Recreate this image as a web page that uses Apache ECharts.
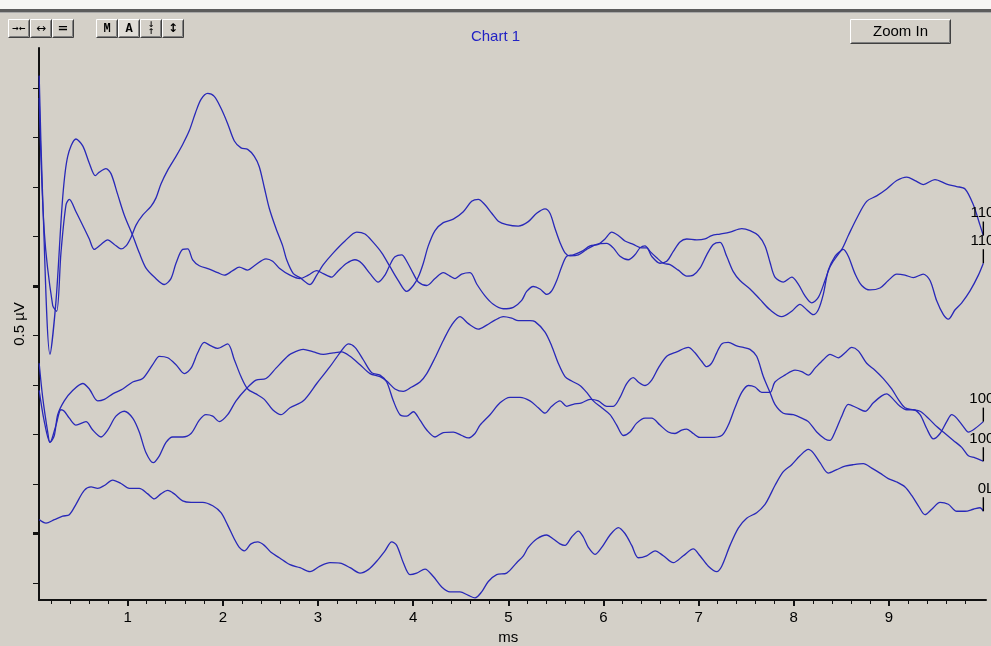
<!DOCTYPE html>
<html>
<head>
<meta charset="utf-8">
<script src="https://cdn.jsdelivr.net/npm/echarts@6/dist/echarts.min.js"></script>
<style>
  html, body { margin: 0; padding: 0; background: #d4d0c8; }
  #chart { width: 991px; height: 646px; }
</style>
</head>
<body>
<div id="chart"></div>
<script>
// Averaged waveforms, each point is [time (ms), amplitude (µV)]
const trace110a = [[0.07,0.98],[0.124,0.709],[0.212,0.561],[0.254,0.549],[0.299,0.667],[0.352,0.764],[0.387,0.775],[0.457,0.750],[0.544,0.716],[0.597,0.695],[0.649,0.674],[0.720,0.684],[0.790,0.693],[0.860,0.684],[0.930,0.675],[0.983,0.681],[1.035,0.698],[1.088,0.723],[1.158,0.743],[1.245,0.761],[1.298,0.778],[1.350,0.806],[1.421,0.834],[1.508,0.862],[1.578,0.886],[1.648,0.914],[1.711,0.949],[1.771,0.977],[1.841,0.989],[1.910,0.983],[1.981,0.959],[2.051,0.928],[2.121,0.893],[2.191,0.879],[2.261,0.876],[2.331,0.862],[2.383,0.841],[2.436,0.799],[2.488,0.757],[2.559,0.716],[2.629,0.681],[2.671,0.653],[2.741,0.625],[2.811,0.617],[2.916,0.603],[2.987,0.622],[3.056,0.643],[3.161,0.667],[3.284,0.691],[3.407,0.709],[3.494,0.705],[3.581,0.688],[3.670,0.667],[3.757,0.639],[3.844,0.611],[3.932,0.589],[4.002,0.601],[4.054,0.618],[4.107,0.646],[4.159,0.681],[4.230,0.712],[4.317,0.728],[4.422,0.735],[4.527,0.750],[4.615,0.771],[4.685,0.775],[4.755,0.764],[4.826,0.747],[4.895,0.731],[4.983,0.724],[5.105,0.721],[5.210,0.730],[5.298,0.747],[5.386,0.756],[5.438,0.747],[5.491,0.716],[5.543,0.688],[5.596,0.667],[5.648,0.661],[5.736,0.663],[5.824,0.674],[5.929,0.684],[6.034,0.686],[6.103,0.677],[6.174,0.660],[6.261,0.653],[6.331,0.663],[6.384,0.677],[6.437,0.681],[6.489,0.670],[6.560,0.657],[6.629,0.646],[6.700,0.643],[6.787,0.632],[6.875,0.620],[6.944,0.622],[7.014,0.636],[7.085,0.663],[7.154,0.684],[7.225,0.688],[7.295,0.660],[7.364,0.629],[7.435,0.611],[7.540,0.594],[7.645,0.573],[7.750,0.552],[7.873,0.538],[7.978,0.549],[8.065,0.563],[8.136,0.552],[8.205,0.542],[8.258,0.552],[8.310,0.583],[8.363,0.632],[8.433,0.660],[8.504,0.674],[8.573,0.702],[8.662,0.737],[8.766,0.771],[8.871,0.782],[8.976,0.796],[9.082,0.813],[9.187,0.820],[9.274,0.813],[9.361,0.805],[9.484,0.815],[9.607,0.806],[9.712,0.801],[9.800,0.796],[9.887,0.764],[9.957,0.723],[9.992,0.702]];

const trace110b = [[0.07,1.025],[0.107,0.778],[0.184,0.462],[0.247,0.570],[0.317,0.778],[0.370,0.862],[0.457,0.897],[0.528,0.883],[0.597,0.848],[0.660,0.823],[0.702,0.830],[0.772,0.837],[0.825,0.827],[0.895,0.785],[0.965,0.743],[1.053,0.702],[1.122,0.667],[1.193,0.636],[1.280,0.618],[1.385,0.603],[1.455,0.615],[1.508,0.646],[1.578,0.674],[1.631,0.675],[1.683,0.653],[1.753,0.641],[1.858,0.634],[1.946,0.627],[2.016,0.622],[2.104,0.631],[2.173,0.638],[2.261,0.632],[2.331,0.641],[2.454,0.655],[2.524,0.650],[2.594,0.636],[2.706,0.622],[2.811,0.615],[2.898,0.622],[2.987,0.631],[3.056,0.625],[3.144,0.618],[3.214,0.631],[3.302,0.646],[3.389,0.653],[3.459,0.646],[3.547,0.625],[3.634,0.608],[3.704,0.622],[3.757,0.643],[3.809,0.659],[3.880,0.663],[3.932,0.650],[4.002,0.625],[4.054,0.608],[4.143,0.601],[4.230,0.615],[4.317,0.627],[4.387,0.620],[4.440,0.615],[4.510,0.624],[4.598,0.627],[4.668,0.604],[4.755,0.580],[4.842,0.563],[4.947,0.554],[5.053,0.557],[5.141,0.571],[5.193,0.589],[5.263,0.599],[5.333,0.594],[5.404,0.583],[5.456,0.590],[5.509,0.611],[5.561,0.639],[5.614,0.660],[5.683,0.663],[5.771,0.670],[5.859,0.681],[5.946,0.684],[6.016,0.695],[6.087,0.709],[6.156,0.702],[6.226,0.691],[6.314,0.684],[6.402,0.677],[6.454,0.677],[6.507,0.660],[6.594,0.646],[6.665,0.650],[6.734,0.670],[6.804,0.689],[6.875,0.695],[6.980,0.693],[7.067,0.695],[7.137,0.702],[7.225,0.705],[7.330,0.709],[7.453,0.716],[7.540,0.712],[7.627,0.702],[7.698,0.681],[7.750,0.648],[7.802,0.618],[7.890,0.608],[7.978,0.618],[8.047,0.604],[8.118,0.580],[8.188,0.566],[8.258,0.577],[8.328,0.611],[8.381,0.639],[8.451,0.660],[8.521,0.674],[8.573,0.660],[8.643,0.625],[8.714,0.601],[8.801,0.592],[8.906,0.596],[8.993,0.611],[9.082,0.624],[9.169,0.622],[9.256,0.617],[9.361,0.624],[9.432,0.611],[9.502,0.570],[9.572,0.542],[9.624,0.533],[9.695,0.552],[9.765,0.566],[9.852,0.590],[9.940,0.622],[9.992,0.646]];

const trace100a = [[0.07,0.444],[0.107,0.375],[0.160,0.305],[0.184,0.284],[0.229,0.298],[0.265,0.340],[0.334,0.368],[0.422,0.389],[0.528,0.403],[0.597,0.392],[0.685,0.368],[0.755,0.371],[0.843,0.382],[0.948,0.392],[1.053,0.406],[1.158,0.413],[1.263,0.441],[1.333,0.458],[1.421,0.455],[1.508,0.441],[1.595,0.423],[1.666,0.434],[1.736,0.465],[1.805,0.486],[1.876,0.479],[1.946,0.474],[2.051,0.483],[2.121,0.451],[2.191,0.417],[2.261,0.392],[2.349,0.382],[2.436,0.371],[2.524,0.350],[2.611,0.340],[2.706,0.354],[2.846,0.368],[2.987,0.403],[3.126,0.437],[3.231,0.465],[3.319,0.483],[3.389,0.476],[3.476,0.451],[3.565,0.425],[3.652,0.420],[3.722,0.406],[3.792,0.368],[3.862,0.340],[3.932,0.337],[4.002,0.346],[4.072,0.329],[4.143,0.309],[4.230,0.295],[4.317,0.304],[4.422,0.305],[4.510,0.298],[4.580,0.293],[4.650,0.302],[4.703,0.319],[4.808,0.340],[4.913,0.364],[5.018,0.375],[5.123,0.375],[5.228,0.368],[5.315,0.354],[5.386,0.343],[5.456,0.357],[5.543,0.368],[5.614,0.357],[5.683,0.361],[5.771,0.364],[5.859,0.371],[5.946,0.368],[6.034,0.357],[6.103,0.357],[6.174,0.375],[6.244,0.403],[6.314,0.415],[6.366,0.406],[6.437,0.399],[6.507,0.410],[6.576,0.434],[6.665,0.458],[6.770,0.467],[6.892,0.476],[6.962,0.465],[7.032,0.448],[7.085,0.437],[7.137,0.444],[7.190,0.465],[7.243,0.483],[7.312,0.486],[7.400,0.479],[7.470,0.476],[7.540,0.472],[7.610,0.458],[7.680,0.417],[7.750,0.385],[7.802,0.361],[7.890,0.343],[7.995,0.340],[8.083,0.333],[8.153,0.326],[8.241,0.305],[8.328,0.291],[8.381,0.288],[8.433,0.305],[8.504,0.337],[8.573,0.361],[8.662,0.354],[8.749,0.347],[8.836,0.364],[8.924,0.378],[8.976,0.382],[9.046,0.371],[9.116,0.357],[9.187,0.350],[9.256,0.350],[9.327,0.340],[9.397,0.312],[9.467,0.291],[9.537,0.302],[9.607,0.326],[9.660,0.340],[9.712,0.333],[9.782,0.316],[9.835,0.305],[9.905,0.312],[9.992,0.326]];

const trace100b = [[0.07,0.389],[0.121,0.329],[0.184,0.284],[0.247,0.319],[0.299,0.350],[0.334,0.347],[0.387,0.333],[0.457,0.319],[0.562,0.326],[0.633,0.309],[0.720,0.295],[0.790,0.309],[0.877,0.337],[0.965,0.347],[1.053,0.333],[1.122,0.305],[1.193,0.263],[1.269,0.243],[1.333,0.257],[1.403,0.284],[1.473,0.295],[1.578,0.295],[1.666,0.302],[1.753,0.329],[1.823,0.340],[1.894,0.337],[1.963,0.326],[2.051,0.340],[2.139,0.368],[2.244,0.392],[2.349,0.410],[2.454,0.413],[2.559,0.434],[2.664,0.455],[2.706,0.462],[2.846,0.472],[2.951,0.467],[3.056,0.462],[3.161,0.465],[3.249,0.467],[3.337,0.458],[3.442,0.441],[3.547,0.423],[3.652,0.417],[3.722,0.408],[3.809,0.392],[3.897,0.387],[3.985,0.396],[4.072,0.406],[4.143,0.423],[4.230,0.455],[4.317,0.490],[4.405,0.521],[4.492,0.538],[4.580,0.524],[4.685,0.513],[4.773,0.521],[4.860,0.531],[4.947,0.538],[5.036,0.535],[5.105,0.530],[5.228,0.530],[5.281,0.528],[5.386,0.507],[5.456,0.479],[5.525,0.444],[5.596,0.417],[5.666,0.408],[5.753,0.399],[5.824,0.385],[5.893,0.368],[5.982,0.354],[6.069,0.340],[6.139,0.319],[6.209,0.298],[6.279,0.305],[6.349,0.323],[6.437,0.333],[6.507,0.333],[6.594,0.319],[6.681,0.305],[6.752,0.302],[6.822,0.309],[6.875,0.311],[6.944,0.302],[7.014,0.294],[7.120,0.294],[7.243,0.298],[7.312,0.319],[7.382,0.354],[7.453,0.385],[7.522,0.399],[7.592,0.396],[7.663,0.385],[7.750,0.385],[7.802,0.406],[7.907,0.420],[8.013,0.430],[8.083,0.427],[8.153,0.420],[8.223,0.434],[8.310,0.451],[8.381,0.462],[8.468,0.455],[8.539,0.465],[8.609,0.476],[8.678,0.469],[8.766,0.444],[8.853,0.430],[8.941,0.413],[9.029,0.392],[9.098,0.371],[9.169,0.354],[9.256,0.350],[9.327,0.347],[9.414,0.333],[9.502,0.316],[9.590,0.302],[9.677,0.288],[9.765,0.274],[9.835,0.257],[9.905,0.253],[9.992,0.246]];

const trace0L = [[0.07,0.128],[0.142,0.121],[0.229,0.128],[0.317,0.135],[0.387,0.138],[0.457,0.159],[0.544,0.187],[0.615,0.194],[0.685,0.191],[0.755,0.197],[0.843,0.208],[0.930,0.201],[1.017,0.191],[1.122,0.191],[1.211,0.180],[1.280,0.170],[1.350,0.180],[1.421,0.187],[1.490,0.180],[1.578,0.166],[1.666,0.163],[1.789,0.163],[1.894,0.156],[1.981,0.142],[2.051,0.117],[2.121,0.089],[2.173,0.072],[2.226,0.065],[2.296,0.079],[2.367,0.083],[2.436,0.076],[2.506,0.062],[2.594,0.051],[2.706,0.037],[2.811,0.031],[2.916,0.023],[3.021,0.034],[3.126,0.041],[3.231,0.040],[3.337,0.031],[3.442,0.020],[3.529,0.027],[3.617,0.044],[3.704,0.065],[3.775,0.083],[3.827,0.076],[3.897,0.041],[3.967,0.017],[4.037,0.020],[4.125,0.028],[4.212,0.013],[4.300,-0.008],[4.387,-0.018],[4.492,-0.018],[4.580,-0.025],[4.650,-0.030],[4.720,-0.018],[4.790,0.003],[4.878,0.017],[4.983,0.020],[5.088,0.041],[5.158,0.055],[5.210,0.072],[5.298,0.089],[5.404,0.097],[5.473,0.089],[5.543,0.079],[5.596,0.076],[5.666,0.093],[5.736,0.105],[5.788,0.093],[5.841,0.072],[5.911,0.058],[5.982,0.072],[6.069,0.097],[6.156,0.112],[6.226,0.100],[6.297,0.076],[6.366,0.051],[6.454,0.055],[6.542,0.065],[6.629,0.055],[6.734,0.041],[6.839,0.055],[6.944,0.069],[7.014,0.055],[7.102,0.034],[7.190,0.023],[7.243,0.034],[7.330,0.076],[7.417,0.111],[7.505,0.131],[7.610,0.142],[7.698,0.159],[7.750,0.177],[7.802,0.197],[7.890,0.225],[7.978,0.239],[8.065,0.257],[8.153,0.270],[8.205,0.263],[8.276,0.243],[8.363,0.222],[8.451,0.229],[8.539,0.236],[8.626,0.239],[8.731,0.241],[8.819,0.232],[8.906,0.222],[8.993,0.211],[9.082,0.204],[9.169,0.194],[9.239,0.177],[9.309,0.156],[9.379,0.138],[9.450,0.149],[9.537,0.163],[9.624,0.159],[9.712,0.145],[9.800,0.145],[9.887,0.149],[9.957,0.152],[9.992,0.145]];

const traceNames = ['110', '110', '100', '100', '0L'];
const traces = [trace110a, trace110b, trace100a, trace100b, trace0L];

const FONT = '"Liberation Sans", Arial, sans-serif';
const FACE = '#d4d0c8';
const WAVE = '#2828b8';

// --- window chrome (toolbar buttons, zoom button, top border) ---
function bevelButton(x, y, w, h, face, text, textStyle) {
  const r = x + w, b = y + h;
  return {
    type: 'group',
    silent: true,
    children: [
      { type: 'rect', shape: { x: x, y: y, width: w, height: h }, style: { fill: face } },
      { type: 'polyline', shape: { points: [[x + 0.5, b - 0.5], [x + 0.5, y + 0.5], [r - 0.5, y + 0.5]] }, style: { stroke: '#ffffff', lineWidth: 1, fill: null } },
      { type: 'polyline', shape: { points: [[x + 0.5, b - 0.5], [r - 0.5, b - 0.5], [r - 0.5, y + 0.5]] }, style: { stroke: '#404040', lineWidth: 1, fill: null } },
      { type: 'polyline', shape: { points: [[x + 1.5, b - 1.5], [r - 1.5, b - 1.5], [r - 1.5, y + 1.5]] }, style: { stroke: '#808080', lineWidth: 1, fill: null } },
      { type: 'text', x: x + w / 2, y: y + h / 2, style: Object.assign({ text: text, fill: '#000', align: 'center', verticalAlign: 'middle', font: '12px "DejaVu Sans"' }, textStyle || {}) }
    ]
  };
}

const chrome = [
  { type: 'rect', silent: true, shape: { x: 0, y: 0, width: 991, height: 9 }, style: { fill: '#f6f6f4' } },
  { type: 'rect', silent: true, shape: { x: 0, y: 9, width: 991, height: 3 }, style: { fill: '#5c5c5c' } },
  { type: 'rect', silent: true, shape: { x: 0, y: 12, width: 991, height: 1 }, style: { fill: '#a8a8a8' } },
  bevelButton(8, 19, 22, 19, FACE, '→←', { font: 'bold 8px "DejaVu Sans"' }),
  bevelButton(30, 19, 22, 19, FACE, '↔', { font: '12px "DejaVu Sans"' }),
  bevelButton(52, 19, 22, 19, FACE, '=', { font: 'bold 13px "DejaVu Sans"' }),
  bevelButton(96, 19, 22, 19, FACE, 'M', { font: 'bold 12px "Liberation Mono"' }),
  bevelButton(118, 19, 22, 19, '#e0ddd7', 'A', { font: 'bold 12px "Liberation Mono"' }),
  bevelButton(140, 19, 22, 19, FACE, '↓\n↑', { font: 'bold 8px "DejaVu Sans"', lineHeight: 7 }),
  bevelButton(162, 19, 22, 19, FACE, '↕', { font: 'bold 12px "DejaVu Sans"' }),
  bevelButton(850, 19, 101, 25, FACE, 'Zoom In', { font: '15px ' + FONT })
];

// --- layout: plot area maps 0..10 ms onto the visible axis frame ---
const PLOT_LEFT = 32.5;          // pixel of t = 0 ms
const PX_PER_MS = 95.16;
const PLOT_TOP = 48;
const PLOT_BOTTOM = 600;
const TICK_TOP = 88;             // first amplitude tick
const TICK_STEP = 49.5;          // 0.1 µV per tick

const grids = [
  // 0: waveforms
  { left: PLOT_LEFT, top: PLOT_TOP, width: PX_PER_MS * 10, height: PLOT_BOTTOM - PLOT_TOP },
  // 1: axis frame
  { left: 39, top: PLOT_TOP, width: 947, height: PLOT_BOTTOM - PLOT_TOP },
  // 2: amplitude ticks
  { left: 39, top: TICK_TOP, width: 10, height: TICK_STEP * 10 },
  // 3: bold amplitude ticks (0.5 µV scale)
  { left: 39, top: TICK_TOP + TICK_STEP * 4, width: 10, height: TICK_STEP * 5 },
  // 4: minor time ticks (0.2 ms)
  { left: PLOT_LEFT + PX_PER_MS * 0.2, top: PLOT_BOTTOM - 10, width: PX_PER_MS * 9.6, height: 10 },
  // 5: major time ticks (1 ms)
  { left: PLOT_LEFT + PX_PER_MS, top: PLOT_BOTTOM - 10, width: PX_PER_MS * 8, height: 10 }
].map(g => Object.assign({ outerBoundsMode: 'none', containLabel: false, show: false }, g));

const hidden = { show: false };
const noLine = { show: false };

const xAxes = [
  {
    gridIndex: 0, type: 'value', min: 0, max: 10, interval: 1,
    axisLine: noLine, axisTick: hidden, splitLine: hidden, minorTick: hidden,
    axisLabel: {
      show: true, margin: 10, color: '#000', fontSize: 15, fontFamily: FONT,
      formatter: v => (v >= 1 && v <= 9) ? String(v) : ''
    },
    name: 'ms', nameLocation: 'middle', nameGap: 27,
    nameTextStyle: { color: '#000', fontSize: 15, fontFamily: FONT }
  },
  {
    gridIndex: 1, type: 'value', min: 0, max: 1,
    axisLine: { show: true, lineStyle: { color: '#111', width: 2 } },
    axisTick: hidden, axisLabel: hidden, splitLine: hidden
  },
  { gridIndex: 2, type: 'value', min: 0, max: 1, show: false },
  { gridIndex: 3, type: 'value', min: 0, max: 1, show: false },
  {
    gridIndex: 4, type: 'value', min: 0, max: 48, interval: 1,
    axisLine: noLine, axisLabel: hidden, splitLine: hidden,
    axisTick: { show: true, length: 4, lineStyle: { color: '#111', width: 1 } }
  },
  {
    gridIndex: 5, type: 'value', min: 0, max: 8, interval: 1,
    axisLine: noLine, axisLabel: hidden, splitLine: hidden,
    axisTick: { show: true, length: 6, lineStyle: { color: '#111', width: 2 } }
  }
];

const yAxes = [
  {
    gridIndex: 0, type: 'value',
    min: (583 - PLOT_BOTTOM) / 495, max: (583 - PLOT_TOP) / 495,
    show: false
  },
  {
    gridIndex: 1, type: 'value', min: 0, max: 1,
    axisLine: { show: true, lineStyle: { color: '#111', width: 2 } },
    axisTick: hidden, axisLabel: hidden, splitLine: hidden,
    name: '0.5 µV', nameLocation: 'middle', nameRotate: 90, nameGap: 12,
    nameTextStyle: { color: '#000', fontSize: 15, fontFamily: FONT }
  },
  {
    gridIndex: 2, type: 'value', min: 0, max: 10, interval: 1,
    axisLine: noLine, axisLabel: hidden, splitLine: hidden,
    axisTick: { show: true, length: 6, lineStyle: { color: '#111', width: 1 } }
  },
  {
    gridIndex: 3, type: 'value', min: 0, max: 1, interval: 1,
    axisLine: noLine, axisLabel: hidden, splitLine: hidden,
    axisTick: { show: true, length: 6, lineStyle: { color: '#111', width: 3 } }
  },
  { gridIndex: 4, type: 'value', min: 0, max: 1, show: false },
  { gridIndex: 5, type: 'value', min: 0, max: 1, show: false }
];

const series = traces.map((data, i) => ({
  type: 'line',
  name: traceNames[i] + '_' + i,
  xAxisIndex: 0,
  yAxisIndex: 0,
  data: data,
  showSymbol: false,
  smooth: 0.3,
  silent: true,
  lineStyle: { color: WAVE, width: 1.3 },
  markPoint: {
    silent: true,
    animation: false,
    symbol: 'rect',
    symbolSize: [1.4, 14],
    symbolOffset: [0, '-50%'],
    itemStyle: { color: '#000' },
    label: {
      show: true, position: 'top', distance: 1, align: 'right', offset: [11, 0],
      color: '#000', fontSize: 15, fontFamily: FONT,
      formatter: () => traceNames[i]
    },
    data: [{ coord: data[data.length - 1] }]
  }
}));

const chart = echarts.init(document.getElementById('chart'), null, { renderer: 'canvas' });
chart.setOption({
  animation: false,
  backgroundColor: FACE,
  textStyle: { fontFamily: FONT },
  title: {
    text: 'Chart 1', left: 'center', top: 24,
    textStyle: { color: '#2222c4', fontSize: 15, fontWeight: 'normal', fontFamily: FONT }
  },
  grid: grids,
  xAxis: xAxes,
  yAxis: yAxes,
  series: series,
  graphic: chrome
});
</script>
</body>
</html>
